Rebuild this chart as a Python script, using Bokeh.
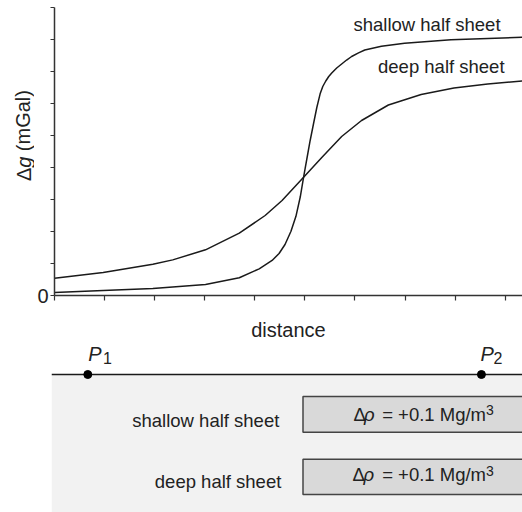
from bokeh.plotting import figure
from bokeh.models import Range1d, FixedTicker
from bokeh.layouts import column, row
from bokeh.embed import file_html
from bokeh.resources import INLINE
from bokeh.core.properties import value

# ---------------- data ----------------
shallow_x = [0.000, 0.972, 1.964, 3.016, 3.690, 4.087, 4.345, 4.484, 4.603, 4.722,
             4.821, 4.907, 4.974, 5.006, 5.060, 5.105, 5.173, 5.238, 5.304, 5.357,
             5.417, 5.476, 5.536, 5.635, 5.734, 5.833, 5.933, 6.071, 6.196, 6.528,
             6.990, 7.520, 7.917, 9.345]
shallow_y = [0.094, 0.156, 0.219, 0.344, 0.553, 0.834, 1.094, 1.313, 1.594, 2.006,
             2.475, 3.078, 3.697, 3.984, 4.453, 4.844, 5.375, 5.875, 6.303, 6.531,
             6.703, 6.844, 6.953, 7.109, 7.234, 7.359, 7.469, 7.584, 7.672, 7.791,
             7.884, 7.947, 7.991, 8.072]
deep_x = [0.000, 0.972, 1.964, 2.361, 3.016, 3.690, 4.206, 4.544, 4.974, 5.337,
          5.734, 6.131, 6.667, 7.321, 7.976, 8.651, 9.345]
deep_y = [0.541, 0.722, 0.975, 1.113, 1.428, 1.947, 2.500, 2.969, 3.697, 4.313,
          4.969, 5.469, 5.953, 6.281, 6.484, 6.609, 6.703]

x_ticks = list(range(10))
y_ticks = list(range(10))
y_tick_labels = {0: "0"}

curve_names = ["shallow half sheet", "deep half sheet"]
x_label = "distance"
y_label_parts = [("\u0394", "normal"), ("g", "italic"), ("(mGal)", "normal")]

# schematic (lower panel): station positions along the profile
station_x = [0.72, 8.53]
station_names = ["P", "P"]
station_subs = ["1", "2"]
# half-sheet bodies: top / bottom (px below the surface line), left edge
body_top = [-22.0, -84.7]
body_bottom = [-57.7, -120.0]
body_left = [4.99, 4.99]
density_text = "= +0.1 Mg/m"

FONT = "Liberation Sans"
X_END = 9.345
INK = "#222222"
SHIFT_PX = 6.5          # rendered alphabetic baseline sits this far below the anchor


def txt(fig, x, y, text, size, align="left", baseline="alphabetic", style="normal", angle=0.0):
    fig.text(x=x, y=y, text=text, angle=angle, text_font=value(FONT),
             text_font_size=value(size), text_font_style=style, text_color=INK,
             text_align=align, text_baseline=baseline, text_line_height=1.0)


# ---------------- top chart ----------------
p = figure(width=488, height=344, x_range=Range1d(0, X_END), y_range=Range1d(0, 9),
           output_backend="svg", toolbar_location=None,
           min_border_left=17, min_border_right=0, min_border_top=7, min_border_bottom=49)
p.outline_line_color = None
p.grid.visible = False

p.line(shallow_x, shallow_y, line_color="#1a1a1a", line_width=1.5)
p.line(deep_x, deep_y, line_color="#1a1a1a", line_width=1.5)

dy = SHIFT_PX / 32.0
txt(p, [5.97, 6.46], [8.26 + dy, 6.96 + dy], curve_names, "18.5px")

xa = p.xaxis[0]
xa.ticker = FixedTicker(ticks=x_ticks)
xa.major_label_overrides = {t: "" for t in x_ticks}
xa.major_label_standoff = 0
xa.major_tick_out = 5
xa.major_tick_in = 0
xa.minor_tick_line_color = None
xa.axis_line_color = "#333333"
xa.major_tick_line_color = "#333333"
xa.axis_line_width = 1.5
xa.major_tick_line_width = 1.2
xa.axis_label = x_label
xa.axis_label_text_font = FONT
xa.axis_label_text_font_size = "20px"
xa.axis_label_text_font_style = "normal"
xa.axis_label_text_color = INK
xa.axis_label_standoff = 18

ya = p.yaxis[0]
ya.ticker = FixedTicker(ticks=y_ticks)
ya.major_label_overrides = {t: y_tick_labels.get(t, "") for t in y_ticks}
ya.major_label_text_font = FONT
ya.major_label_text_font_size = "20px"
ya.major_label_text_color = INK
ya.major_label_standoff = 2
ya.major_tick_out = 4
ya.major_tick_in = 0
ya.minor_tick_line_color = None
ya.axis_line_color = "#333333"
ya.major_tick_line_color = "#333333"
ya.axis_line_width = 1.5
ya.major_tick_line_width = 1.2

# ---------------- y-axis title strip (left of the axis) ----------------
lab = figure(width=34, height=344, x_range=Range1d(0, 34), y_range=p.y_range,
             output_backend="svg", toolbar_location=None,
             x_axis_location=None, y_axis_location=None,
             min_border_left=0, min_border_right=0, min_border_top=7, min_border_bottom=49)
lab.outline_line_color = None
lab.grid.visible = False
for (part, style), yy in zip(y_label_parts, [3.58, 3.99, 4.51]):
    txt(lab, [29.5 - SHIFT_PX], [yy], [part], "20px", style=style, angle=1.5708)

# ---------------- lower schematic ----------------
q = figure(width=522, height=168, x_range=p.x_range, y_range=Range1d(-138, 30),
           output_backend="svg", toolbar_location=None,
           x_axis_location=None, y_axis_location=None,
           min_border_left=51, min_border_right=0, min_border_top=0, min_border_bottom=0)
q.outline_line_color = None
q.grid.visible = False

q.quad(left=[0], right=[X_END + 1], top=[0], bottom=[-150], fill_color="#f2f2f2", line_color=None)
q.line([0, X_END + 1], [0, 0], line_color="#1a1a1a", line_width=1.5)
q.scatter(station_x, [0, 0], size=8, fill_color="black", line_color="black")

s = SHIFT_PX
txt(q, [0.73, 8.51], [14.5 + s] * 2, station_names, "20px", style="italic")
txt(q, [1.02, 8.77], [10 + s] * 2, station_subs, "16px")

q.quad(left=body_left, right=[X_END + 1] * 2, top=body_top, bottom=body_bottom,
       fill_color="#d9d9d9", line_color="#444444", line_width=1.5)

txt(q, [4.52, 4.56], [-52.5 + s, -113.5 + s], curve_names, "18.5px", align="right")

base = [-46.0 + s, -106.5 + s]
txt(q, [5.99, 5.97], base, ["\u0394", "\u0394"], "18.5px")
txt(q, [6.20, 6.19], base, ["\u03c1", "\u03c1"], "18.5px", style="italic")
txt(q, [6.56, 6.56], base, [density_text, density_text], "18.5px")
txt(q, [8.62, 8.62], [b + 4 for b in base], ["3", "3"], "14px")

layout = column(row(lab, p, spacing=0), q, spacing=0)
open("out.html", "w").write(file_html(layout, INLINE))
